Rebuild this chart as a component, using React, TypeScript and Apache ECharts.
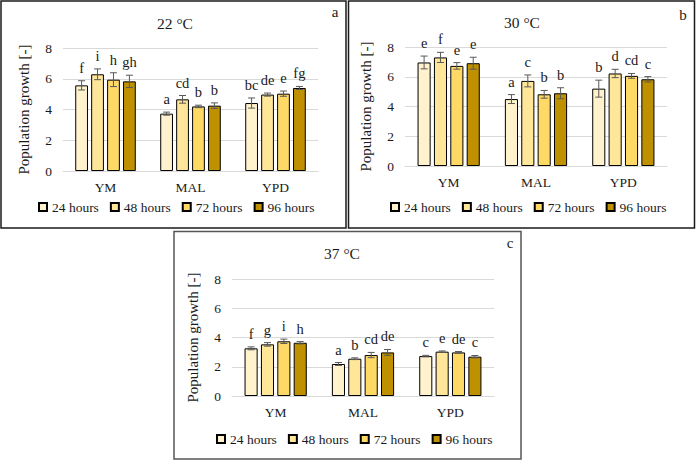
import React, { useEffect, useRef } from "react";
import * as echarts from "echarts";

const categories = ["YM", "MAL", "YPD"];
const hours = ["24 hours", "48 hours", "72 hours", "96 hours"];
const temps = ["22 °C", "30 °C", "37 °C"];
const panelTags = ["a", "b", "c"];
const yTicks = [0, 2, 4, 6, 8];

// rows = hours, columns = media (YM, MAL, YPD)
const growth22 = [
  [5.57, 3.73, 4.42],
  [6.29, 4.66, 4.97],
  [5.94, 4.2, 5.03],
  [5.83, 4.25, 5.4],
];
const err22 = [
  [0.3, 0.1, 0.33],
  [0.35, 0.25, 0.1],
  [0.45, 0.08, 0.17],
  [0.4, 0.18, 0.1],
];
const letters22 = [
  ["f", "a", "bc"],
  ["i", "cd", "de"],
  ["h", "b", "e"],
  ["gh", "b", "fg"],
];

const growth30 = [
  [6.96, 4.5, 5.2],
  [7.3, 5.72, 6.22],
  [6.73, 4.82, 6.06],
  [6.91, 4.89, 5.83],
];
const err30 = [
  [0.43, 0.3, 0.57],
  [0.34, 0.4, 0.28],
  [0.22, 0.26, 0.16],
  [0.4, 0.37, 0.18],
];
const letters30 = [
  ["e", "a", "b"],
  ["f", "c", "d"],
  ["e", "b", "cd"],
  ["e", "b", "c"],
];

const growth37 = [
  [3.26, 2.19, 2.73],
  [3.53, 2.55, 3.03],
  [3.74, 2.8, 2.98],
  [3.64, 2.98, 2.69],
];
const err37 = [
  [0.1, 0.1, 0.05],
  [0.12, 0.06, 0.05],
  [0.15, 0.18, 0.06],
  [0.08, 0.2, 0.08],
];
const letters37 = [
  ["f", "a", "c"],
  ["g", "b", "e"],
  ["i", "cd", "de"],
  ["h", "de", "c"],
];

const FONT = '"Liberation Serif", "Times New Roman", serif';
const TEXT = "#1a1a1a";
const colors = ["#FFF2CC", "#FFE699", "#FFD966", "#BF9000"];
const BAR_W = 0.15;
const BAR_GAP = 0.25;

const panelData = [
  { vals: growth22, errs: err22, letters: letters22 },
  { vals: growth30, errs: err30, letters: letters30 },
  { vals: growth37, errs: err37, letters: letters37 },
];

// layout (pixels)
const grids = [
  { left: 63, right: 378, top: 48, bottom: 290 },
  { left: 405, right: 29, top: 47, bottom: 295 },
  { left: 232, right: 202, top: 279, bottom: 65 },
];
const frames = [
  { x: 1, y: 1, width: 345, height: 227, stroke: "#1a1a1a" },
  { x: 348.5, y: 1, width: 346, height: 227, stroke: "#1a1a1a" },
  { x: 174, y: 231.5, width: 347, height: 227.5, stroke: "#555" },
];
const titlePos = [
  [175, 23],
  [522, 22],
  [342, 253],
];
const tagPos = [
  [335, 12],
  [683, 15],
  [510, 243],
];
const legendPos = [
  [33, 195],
  [385, 195],
  [211, 427],
];

export default function App() {
  const ref = useRef<HTMLDivElement>(null);
  useEffect(() => {
    if (!ref.current) return;
    const chart = echarts.init(ref.current, undefined, { renderer: "svg" });

    const series: any[] = [];
    panelData.forEach((p, pi) => {
      hours.forEach((h, hi) => {
        series.push({
          type: "bar",
          name: h,
          xAxisIndex: pi,
          yAxisIndex: pi,
          data: p.vals[hi],
          barWidth: BAR_W * 100 + "%",
          barGap: BAR_GAP * 100 + "%",
          itemStyle: { color: colors[hi], borderColor: "#000", borderWidth: 1 },
        });
      });
      const items: any[] = [];
      const labs: string[] = [];
      hours.forEach((_, hi) => {
        categories.forEach((_, ci) => {
          items.push([ci, hi, p.vals[hi][ci], p.errs[hi][ci]]);
          labs.push(p.letters[hi][ci]);
        });
      });
      series.push({
        type: "custom",
        name: "err" + pi,
        xAxisIndex: pi,
        yAxisIndex: pi,
        data: items,
        encode: { x: 0, y: 2 },
        z: 10,
        renderItem: (params: any, api: any) => {
          const ci = api.value(0);
          const hi = api.value(1);
          const v = api.value(2);
          const e = api.value(3);
          const band = api.size([1, 0])[0];
          const w = band * BAR_W;
          const gap = w * BAR_GAP;
          const total = 4 * w + 3 * gap;
          const off = -total / 2 + w / 2 + hi * (w + gap);
          const top = api.coord([ci, v + e]);
          const bot = api.coord([ci, v - e]);
          const x = top[0] + off;
          const cap = 3.5;
          const st = { stroke: "#595959", lineWidth: 1 };
          return {
            type: "group",
            children: [
              { type: "line", shape: { x1: x, y1: top[1], x2: x, y2: bot[1] }, style: st },
              { type: "line", shape: { x1: x - cap, y1: top[1], x2: x + cap, y2: top[1] }, style: st },
              { type: "line", shape: { x1: x - cap, y1: bot[1], x2: x + cap, y2: bot[1] }, style: st },
              {
                type: "text",
                x: x,
                y: top[1] - 13,
                style: {
                  text: labs[params.dataIndex],
                  fill: TEXT,
                  font: `14.5px ${FONT}`,
                  align: "center",
                  verticalAlign: "middle",
                },
              },
            ],
          };
        },
      });
    });

    const graphics: any[] = [];
    frames.forEach((f) => {
      graphics.push({
        type: "rect",
        shape: { x: f.x, y: f.y, width: f.width, height: f.height },
        style: { fill: "none", stroke: f.stroke, lineWidth: 1.5 },
        silent: true,
      });
    });
    temps.forEach((t, i) => {
      graphics.push({
        type: "text",
        x: titlePos[i][0],
        y: titlePos[i][1],
        style: { text: t, fill: TEXT, font: `15.5px ${FONT}`, align: "center", verticalAlign: "middle" },
      });
      graphics.push({
        type: "text",
        x: tagPos[i][0],
        y: tagPos[i][1],
        style: { text: panelTags[i], fill: TEXT, font: `15px ${FONT}`, align: "center", verticalAlign: "middle" },
      });
    });

    chart.setOption({
      animation: false,
      backgroundColor: "#fff",
      textStyle: { fontFamily: FONT },
      grid: grids.map((g) => ({ ...g, containLabel: false })),
      xAxis: grids.map((_, i) => ({
        gridIndex: i,
        type: "category",
        data: categories,
        axisLine: { lineStyle: { color: "#d9d9d9" } },
        axisTick: { show: false },
        axisLabel: { fontSize: 13.5, color: TEXT, fontFamily: FONT, margin: 9 },
      })),
      yAxis: grids.map((_, i) => ({
        gridIndex: i,
        type: "value",
        min: yTicks[0],
        max: yTicks[yTicks.length - 1],
        interval: yTicks[1] - yTicks[0],
        axisLine: { show: false },
        axisTick: { show: false },
        splitLine: { lineStyle: { color: "#d9d9d9" } },
        axisLabel: { fontSize: 13.5, color: TEXT, fontFamily: FONT, margin: 11 },
        name: "Population growth [-]",
        nameLocation: "middle",
        nameGap: 32,
        nameTextStyle: { fontSize: 15, color: TEXT, fontFamily: FONT },
      })),
      legend: legendPos.map((lp) => ({
        data: hours,
        left: lp[0],
        top: lp[1],
        itemWidth: 8,
        itemHeight: 8,
        itemGap: 11,
        icon: "rect",
        textStyle: { fontSize: 13.5, color: TEXT, fontFamily: FONT },
        selectedMode: false,
      })),
      series,
      graphic: graphics,
    });
    return () => chart.dispose();
  }, []);
  return (
    <div
      ref={ref}
      style={{ position: "fixed", left: 0, top: 0, width: 696, height: 461, background: "#fff" }}
    />
  );
}
